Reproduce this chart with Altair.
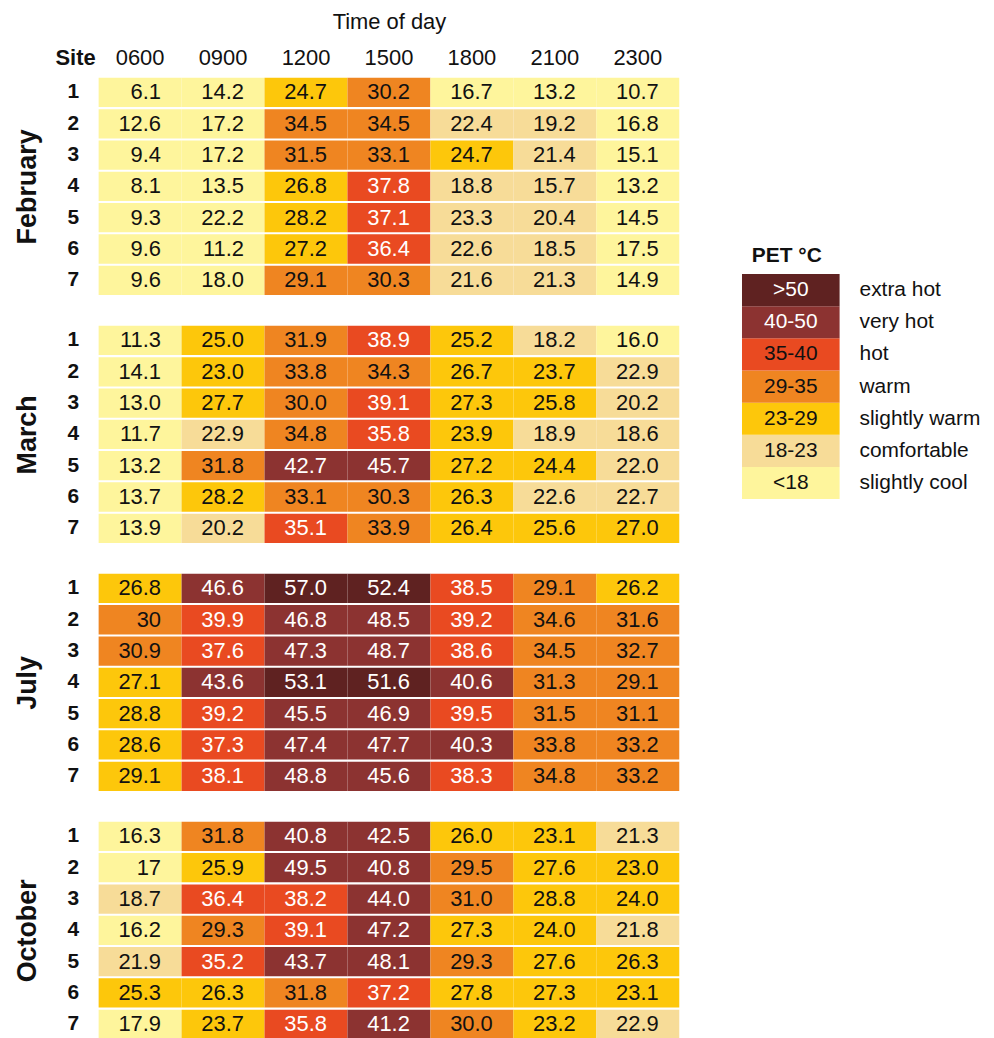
import altair as alt
import pandas as pd

FONT = "Liberation Sans"

months = ["February", "March", "July", "October"]
times = ["0600", "0900", "1200", "1500", "1800", "2100", "2300"]
sites = [1, 2, 3, 4, 5, 6, 7]

# PET values as printed (rows = sites 1..7, columns = times)
feb_values = [
    ["6.1", "14.2", "24.7", "30.2", "16.7", "13.2", "10.7"],
    ["12.6", "17.2", "34.5", "34.5", "22.4", "19.2", "16.8"],
    ["9.4", "17.2", "31.5", "33.1", "24.7", "21.4", "15.1"],
    ["8.1", "13.5", "26.8", "37.8", "18.8", "15.7", "13.2"],
    ["9.3", "22.2", "28.2", "37.1", "23.3", "20.4", "14.5"],
    ["9.6", "11.2", "27.2", "36.4", "22.6", "18.5", "17.5"],
    ["9.6", "18.0", "29.1", "30.3", "21.6", "21.3", "14.9"],
]
mar_values = [
    ["11.3", "25.0", "31.9", "38.9", "25.2", "18.2", "16.0"],
    ["14.1", "23.0", "33.8", "34.3", "26.7", "23.7", "22.9"],
    ["13.0", "27.7", "30.0", "39.1", "27.3", "25.8", "20.2"],
    ["11.7", "22.9", "34.8", "35.8", "23.9", "18.9", "18.6"],
    ["13.2", "31.8", "42.7", "45.7", "27.2", "24.4", "22.0"],
    ["13.7", "28.2", "33.1", "30.3", "26.3", "22.6", "22.7"],
    ["13.9", "20.2", "35.1", "33.9", "26.4", "25.6", "27.0"],
]
jul_values = [
    ["26.8", "46.6", "57.0", "52.4", "38.5", "29.1", "26.2"],
    ["30", "39.9", "46.8", "48.5", "39.2", "34.6", "31.6"],
    ["30.9", "37.6", "47.3", "48.7", "38.6", "34.5", "32.7"],
    ["27.1", "43.6", "53.1", "51.6", "40.6", "31.3", "29.1"],
    ["28.8", "39.2", "45.5", "46.9", "39.5", "31.5", "31.1"],
    ["28.6", "37.3", "47.4", "47.7", "40.3", "33.8", "33.2"],
    ["29.1", "38.1", "48.8", "45.6", "38.3", "34.8", "33.2"],
]
oct_values = [
    ["16.3", "31.8", "40.8", "42.5", "26.0", "23.1", "21.3"],
    ["17", "25.9", "49.5", "40.8", "29.5", "27.6", "23.0"],
    ["18.7", "36.4", "38.2", "44.0", "31.0", "28.8", "24.0"],
    ["16.2", "29.3", "39.1", "47.2", "27.3", "24.0", "21.8"],
    ["21.9", "35.2", "43.7", "48.1", "29.3", "27.6", "26.3"],
    ["25.3", "26.3", "31.8", "37.2", "27.8", "27.3", "23.1"],
    ["17.9", "23.7", "35.8", "41.2", "30.0", "23.2", "22.9"],
]

# Thermal class of each cell as coloured in the figure
# 0 slightly cool, 1 comfortable, 2 slightly warm, 3 warm, 4 hot, 5 very hot, 6 extra hot
feb_class = [
    [0, 0, 2, 3, 0, 0, 0],
    [0, 0, 3, 3, 1, 1, 0],
    [0, 0, 3, 3, 2, 1, 0],
    [0, 0, 2, 4, 1, 1, 0],
    [0, 0, 2, 4, 1, 1, 0],
    [0, 0, 2, 4, 1, 1, 0],
    [0, 0, 3, 3, 1, 1, 0],
]
mar_class = [
    [0, 2, 3, 4, 2, 1, 0],
    [0, 2, 3, 3, 2, 2, 1],
    [0, 2, 3, 4, 2, 2, 1],
    [0, 1, 3, 4, 2, 1, 1],
    [0, 3, 5, 5, 2, 2, 1],
    [0, 2, 3, 3, 2, 1, 1],
    [0, 1, 4, 3, 2, 2, 2],
]
jul_class = [
    [2, 5, 6, 6, 4, 3, 2],
    [3, 4, 5, 5, 4, 3, 3],
    [3, 4, 5, 5, 4, 3, 3],
    [2, 5, 6, 6, 5, 3, 3],
    [2, 4, 5, 5, 4, 3, 3],
    [2, 4, 5, 5, 5, 3, 3],
    [2, 4, 5, 5, 4, 3, 3],
]
oct_class = [
    [0, 3, 5, 5, 2, 2, 1],
    [0, 2, 5, 5, 3, 2, 2],
    [1, 4, 4, 5, 3, 2, 2],
    [0, 3, 4, 5, 2, 2, 1],
    [1, 4, 5, 5, 3, 2, 2],
    [2, 2, 3, 4, 2, 2, 2],
    [0, 2, 4, 5, 3, 2, 1],
]

level_names = ["slightly cool", "comfortable", "slightly warm", "warm",
               "hot", "very hot", "extra hot"]
level_ranges = ["<18", "18-23", "23-29", "29-35", "35-40", "40-50", ">50"]
level_colors = ["#fef59c", "#f7dc98", "#fdc70b", "#ef8521", "#e94a21",
                "#8c3331", "#5f2221"]

month_values = dict(zip(months, [feb_values, mar_values, jul_values, oct_values]))
month_class = dict(zip(months, [feb_class, mar_class, jul_class, oct_class]))

rows = []
for m in months:
    for i, s in enumerate(sites):
        for j, t in enumerate(times):
            c = month_class[m][i][j]
            rows.append({"month": m, "site": s, "time": t,
                         "label": month_values[m][i][j],
                         "level": level_names[c], "code": c})
df = pd.DataFrame(rows)

color_scale = alt.Scale(domain=level_names, range=level_colors)


def month_chart(m, top):
    d = df[df["month"] == m]
    if top:
        x_axis = alt.Axis(orient="top", title="Time of day", titleFontSize=22,
                          titleFontWeight="normal", titleFont=FONT, titleColor="#111",
                          titlePadding=14, labelFontSize=22, labelFont=FONT,
                          labelColor="#111", labelPadding=8, ticks=False,
                          domain=False, labelAngle=0)
    else:
        x_axis = None
    base = alt.Chart(d).encode(
        x=alt.X("time:O", sort=times, axis=x_axis,
                scale=alt.Scale(paddingInner=0, paddingOuter=0)),
        y=alt.Y("site:O", sort=sites,
                scale=alt.Scale(paddingInner=0.065, paddingOuter=0.0),
                axis=alt.Axis(title=m, titleFontSize=27, titleFontWeight="bold",
                              titleFont=FONT, titleColor="#111", titlePadding=26,
                              labelFontSize=21, labelFontWeight="bold",
                              labelFont=FONT, labelColor="#111", labelPadding=20,
                              ticks=False, domain=False)),
    )
    rect = base.mark_rect().encode(
        color=alt.Color("level:N", scale=color_scale, legend=None))
    text = base.mark_text(align="right", baseline="middle", dx=21, fontSize=22,
                          font=FONT).encode(
        text="label:N",
        color=alt.condition("datum.code >= 4", alt.value("#ffffff"),
                            alt.value("#111111")))
    layers = [rect, text]
    if top:
        site_hdr = alt.Chart(pd.DataFrame({"t": ["Site"]})).mark_text(
            align="right", baseline="bottom", fontSize=22, fontWeight="bold",
            font=FONT, color="#111").encode(
            text="t:N", x=alt.value(-3), y=alt.value(-8))
        layers.append(site_hdr)
    return alt.layer(*layers).properties(width=583, height=218)


main = alt.vconcat(*[month_chart(m, i == 0) for i, m in enumerate(months)],
                   spacing=31)

# Legend (drawn as a small chart)
leg_order = level_names[::-1]
leg_df = pd.DataFrame({
    "level": level_names,
    "range": level_ranges,
    "code": list(range(len(level_names))),
})
leg_base = alt.Chart(leg_df).encode(
    y=alt.Y("level:N", sort=leg_order, axis=None,
            scale=alt.Scale(range=[197, 423], paddingInner=0, paddingOuter=0)))
swatch = leg_base.mark_rect().encode(
    x=alt.value(0), x2=alt.value(98),
    color=alt.Color("level:N", scale=color_scale, legend=None))
rng_txt = leg_base.mark_text(fontSize=21, font=FONT, baseline="middle").encode(
    x=alt.value(49), text="range:N",
    color=alt.condition("datum.code >= 5", alt.value("#ffffff"),
                        alt.value("#111111")))
name_txt = leg_base.mark_text(fontSize=21, font=FONT, align="left",
                              baseline="middle", color="#111").encode(
    x=alt.value(118), text="level:N")
leg_title = alt.Chart(pd.DataFrame({"t": ["PET °C"]})).mark_text(
    fontSize=21, fontWeight="bold", font=FONT, color="#111",
    baseline="middle").encode(text="t:N", x=alt.value(45), y=alt.value(179))
legend = alt.layer(swatch, rng_txt, name_txt, leg_title).properties(
    width=100, height=440)

chart = alt.hconcat(main, legend, spacing=62).properties(
    padding={"left": 5, "top": 0, "right": 5, "bottom": 5}
).configure(font=FONT).configure_view(strokeWidth=0, stroke="transparent")

chart.save("out.html", embed_options={"renderer": "svg", "actions": False})
